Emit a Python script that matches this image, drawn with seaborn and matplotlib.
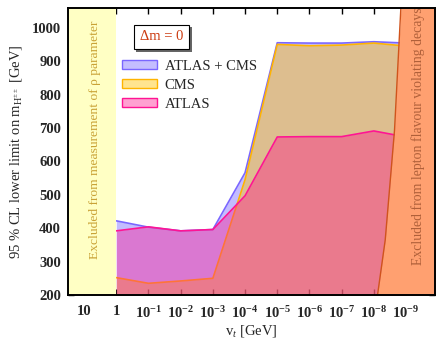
import numpy as np
import pandas as pd
import matplotlib
matplotlib.use("Agg")
import matplotlib.pyplot as plt
import seaborn as sns
from matplotlib.patches import Patch
from matplotlib.ticker import FixedLocator, MultipleLocator
import matplotlib.patheffects as pe

# ---------------- data ----------------
vt = [1, 1e-1, 1e-2, 1e-3, 1e-4, 1e-5, 1e-6, 1e-7, 1e-8, 1e-9]
combined = [422, 403, 392, 396, 566, 955, 954, 954, 958, 954]
cms = [252, 235, 242, 250, 545, 950, 946, 948, 954, 945]
atlas = [392, 404, 392, 396, 497, 673, 674, 674, 691, 673]

series_names = ["ATLAS + CMS", "CMS", "ATLAS"]

# excluded regions
rho_vt_min = 1.0            # rho-parameter exclusion: vt > 1 GeV
lfv_edge_vt = [10**-8.115, 10**-8.354, 10**-8.643, 10**-8.82, 10**-8.84]
lfv_edge_m = [200, 365, 694, 1023, 1060]

xtick_exps = [1, 0, -1, -2, -3, -4, -5, -6, -7, -8, -9]

# ---------------- style ----------------
sns.set_theme(style="ticks")
plt.rcParams["font.family"] = ["Liberation Serif", "DejaVu Serif"]
plt.rcParams["mathtext.fontset"] = "custom"
plt.rcParams["mathtext.rm"] = "Liberation Serif"
plt.rcParams["mathtext.it"] = "Liberation Serif:italic"
plt.rcParams["mathtext.bf"] = "Liberation Serif:bold"

fig = plt.figure(figsize=(4.36, 3.39), dpi=100)
ax = fig.add_axes([68/436, 1-295/339, (435-68)/436, (295-8)/339])

df = pd.DataFrame({"vt": vt, "combined": combined, "cms": cms, "atlas": atlas})

fills = [
    ("combined", (0.42, 0.35, 1.0), 0.40, "#7a66ff"),
    ("cms", (1.0, 0.76, 0.0), 0.44, "#ffb400"),
    ("atlas", (1.0, 0.08, 0.55), 0.40, "#ff1493"),
]
z = 2
for col, fc, a, ec in fills:
    ax.fill_between(df["vt"], 150, df[col], color=fc, alpha=a, lw=0, zorder=z)
    sns.lineplot(data=df, x="vt", y=col, color=ec, lw=1.2, ax=ax,
                 zorder=z + 0.5, legend=False)
    z += 1

ax.set_xscale("log")
ax.set_xlim(10**1.5, 10**-9.9)
ax.set_ylim(200, 1059)

# rho parameter band
ax.axvspan(10**1.5, rho_vt_min, color="#ffffc4", lw=0, zorder=6)
ax.text(10**0.65, 664, "Excluded from measurement of ρ parameter", rotation=90,
        ha="center", va="center", fontsize=9.7, color="#c9a236", zorder=8)

# LFV band
ax.fill_betweenx(lfv_edge_m, lfv_edge_vt, 10**-9.9, color="#ffa070", lw=0,
                 zorder=6)
ax.plot(lfv_edge_vt, lfv_edge_m, color="#d0541c", lw=1.0, zorder=7)
ax.text(10**-9.37, 676, "Excluded from lepton flavour violating decays",
        rotation=90, ha="center", va="center", fontsize=9.9, color="#b0603a",
        zorder=8)

# ticks
ax.xaxis.set_major_locator(FixedLocator([10.0**e for e in xtick_exps]))
ax.xaxis.set_minor_locator(FixedLocator([]))
labels = []
for e in xtick_exps:
    if e == 1:
        labels.append("10")
    elif e == 0:
        labels.append("1")
    else:
        labels.append(r"$\mathbf{10^{%d}}$" % e)
ax.set_xticklabels(labels)
ax.yaxis.set_major_locator(MultipleLocator(100))
ax.yaxis.set_minor_locator(MultipleLocator(50))
ax.tick_params(which="both", direction="in", top=True, right=True,
               width=1.0, color="black", labelsize=10.5)
ax.tick_params(axis="x", pad=7)
ax.tick_params(axis="y", pad=5)
ax.tick_params(which="major", length=4)
ax.tick_params(which="minor", length=2.5)
for lab in ax.get_xticklabels() + ax.get_yticklabels():
    lab.set_fontweight("bold")
for sp in ax.spines.values():
    sp.set_linewidth(1.4)
    sp.set_color("black")
    sp.set_zorder(10)

ax.set_xlabel(r"v$_{t}$ [GeV]", fontsize=10.5, labelpad=2)
ax.set_ylabel(r"95 % CL lower limit on m$_{\mathrm{H}^{\pm\pm}}$ [GeV]",
              fontsize=10.5, labelpad=6)

# legend
handles = []
for _, fc, a, ec in fills:
    face = tuple(a*c + (1-a)*1.0 for c in fc)
    handles.append(Patch(facecolor=face, edgecolor=ec, lw=1.0))
leg = ax.legend(handles, series_names, loc="upper left",
                bbox_to_anchor=(0.148, 0.82), frameon=False, fontsize=10.5,
                handlelength=2.4, handleheight=0.55, handletextpad=0.5,
                labelspacing=0.42, borderaxespad=0, borderpad=0)
leg.set_zorder(9)

t = ax.text(0.254, 0.899, "Δm = 0", transform=ax.transAxes, ha="center",
            va="center", fontsize=10.5, color="#cc3b10", zorder=9,
            bbox=dict(boxstyle="square,pad=0.4", fc="white", ec="black",
                      lw=0.8))
t.get_bbox_patch().set_path_effects(
    [pe.withSimplePatchShadow(offset=(2, -2), shadow_rgbFace="0.4", alpha=1.0)])

fig.savefig("out.png", dpi=100)
